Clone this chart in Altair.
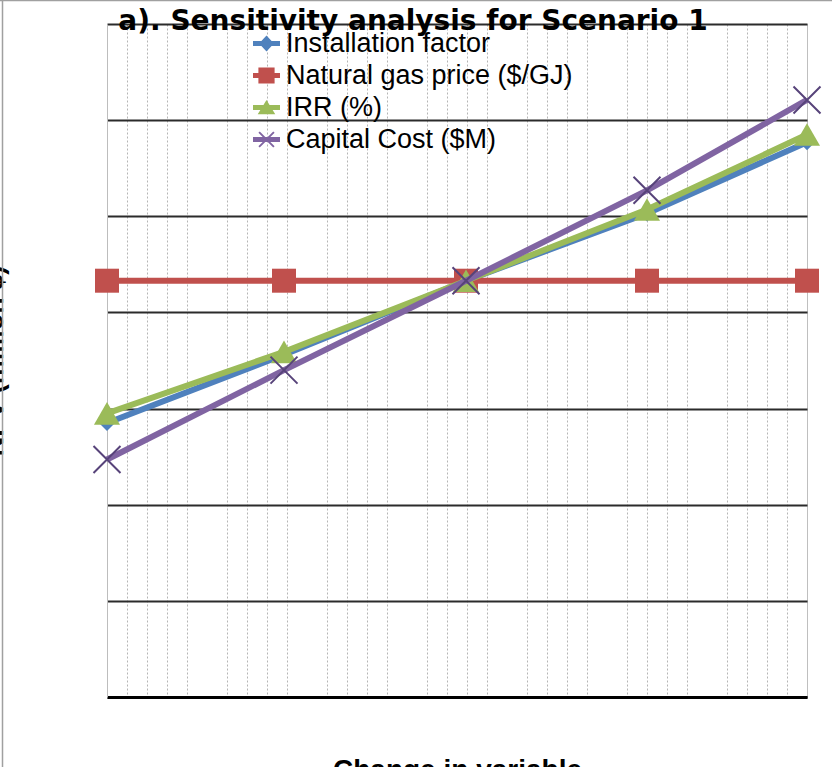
import altair as alt
import pandas as pd

# ---------------- data ----------------
series = ["Installation factor", "Natural gas price ($/GJ)", "IRR (%)", "Capital Cost ($M)"]
x_change = [0.0, 1.77, 3.59, 5.40, 7.0]
installation = [2.85, 3.56, 4.33, 5.03, 5.77]
gas_price = [4.33, 4.33, 4.33, 4.33, 4.33]
irr = [2.95, 3.59, 4.33, 5.07, 5.85]
capital = [2.47, 3.40, 4.33, 5.27, 6.21]
colors = ["#4F81BD", "#C0504D", "#9BBB59", "#8064A2"]
title_text = "a). Sensitivity analysis for Scenario 1"
x_title = "Change in variable"
y_title = "NPV (million $)"

values = [installation, gas_price, irr, capital]
rows = []
for name, vals in zip(series, values):
    for xv, yv in zip(x_change, vals):
        rows.append({"series": name, "x": xv, "y": yv})
df = pd.DataFrame(rows)

# ---------------- styling ----------------
minor_x = [i / 5 for i in range(36) if i % 5 != 0]

x_enc = alt.X(
    "x:Q",
    scale=alt.Scale(domain=[0, 7], nice=False, zero=False),
    axis=alt.Axis(
        values=minor_x, grid=True, gridColor="#b5b5b5", gridDash=[2, 2], gridWidth=1,
        labels=False, ticks=False, domain=True, domainColor="#000000", domainWidth=3,
        title=x_title, titleFont="Liberation Sans", titleFontSize=28, titleFontWeight="bold",
        titleColor="#000000", titlePadding=59,
    ),
)
y_enc = alt.Y(
    "y:Q",
    scale=alt.Scale(domain=[0, 7], nice=False, zero=False),
    axis=alt.Axis(
        values=list(range(0, 8)), grid=True, gridColor="#2b2b2b", gridWidth=2,
        labels=False, ticks=False, domain=True, domainColor="#bdbdbd", domainWidth=1,
        title=y_title, titleFont="Liberation Sans", titleFontSize=27, titleFontWeight="bold",
        titleColor="#000000", titlePadding=99,
    ),
)

base = alt.Chart(df)

def line_layer(name, color):
    return base.transform_filter(alt.datum.series == name).mark_line(
        color=color, strokeWidth=6, strokeJoin="round"
    ).encode(x=x_enc, y=y_enc)

x_path = "M-1,-1L1,1M-1,1L1,-1"

blue_pts = base.transform_filter(alt.datum.series == series[0]).mark_point(
    shape="diamond", filled=True, size=256, color=colors[0], opacity=1
).encode(x=x_enc, y=y_enc)
red_pts = base.transform_filter(alt.datum.series == series[1]).mark_point(
    shape="square", filled=True, size=576, color=colors[1], opacity=1
).encode(x=x_enc, y=y_enc)
green_pts = base.transform_filter(alt.datum.series == series[2]).mark_point(
    shape="triangle-up", filled=True, size=680, color=colors[2], opacity=1
).encode(x=x_enc, y=y_enc)
purple_pts = base.transform_filter(alt.datum.series == series[3]).mark_point(
    shape=x_path, filled=False, size=729, color="#57437a", strokeWidth=2, opacity=1
).encode(x=x_enc, y=y_enc)

# legend symbols: a short line plus the marker
bar = "M-1,-0.18H1V0.18H-1Z"
legend_paths = [
    bar + " M0,-0.6L0.55,0L0,0.6L-0.55,0Z",
    bar + " M-0.6,-0.6H0.6V0.6H-0.6Z",
    bar + " M0,-0.55L0.65,0.5H-0.65Z",
    bar + " M-0.6,-0.5L-0.5,-0.6L0.6,0.5L0.5,0.6Z M0.5,-0.6L0.6,-0.5L-0.5,0.6L-0.6,0.5Z",
]
legend_kw = dict(
    orient="none", legendX=146, legendY=6, title=None, labelFont="Liberation Sans",
    labelFontSize=27, labelColor="#000000", symbolSize=729, symbolStrokeWidth=0,
    rowPadding=4, labelOffset=6, padding=0, symbolOpacity=1, labelLimit=600,
)
legend_layer = base.transform_filter("false").mark_point(filled=True, size=729, opacity=1).encode(
    color=alt.Color("series:N", scale=alt.Scale(domain=series, range=colors), legend=alt.Legend(**legend_kw)),
    shape=alt.Shape("series:N", scale=alt.Scale(domain=series, range=legend_paths), legend=alt.Legend(**legend_kw)),
)

title_layer = alt.Chart(pd.DataFrame({"t": [title_text]})).mark_text(
    font="DejaVu Sans", fontSize=28, fontWeight="bold", color="#000000",
    align="center", baseline="alphabetic",
).encode(text="t:N", x=alt.value(306), y=alt.value(6))

border_top = alt.Chart(pd.DataFrame({"a": [0]})).mark_rule(color="#a0a0a0", strokeWidth=1.5).encode(
    x=alt.value(-107), x2=alt.value(725), y=alt.value(-23.5)
)
border_left = alt.Chart(pd.DataFrame({"a": [0]})).mark_rule(color="#a0a0a0", strokeWidth=1.5).encode(
    x=alt.value(-104.5), y=alt.value(-24), y2=alt.value(743)
)

chart = alt.layer(
    line_layer(series[0], colors[0]), blue_pts,
    line_layer(series[1], colors[1]), red_pts,
    line_layer(series[2], colors[2]), green_pts,
    line_layer(series[3], colors[3]), purple_pts,
    legend_layer, title_layer, border_top, border_left,
).properties(
    width=700, height=673,
    padding={"left": 107, "top": 24, "right": 25, "bottom": 70},
    autosize=alt.AutoSizeParams(type="none"),
    background="#ffffff",
).configure_view(stroke="#bfbfbf", strokeWidth=1)

chart.save("out.html", embed_options={"renderer": "svg", "actions": False})
